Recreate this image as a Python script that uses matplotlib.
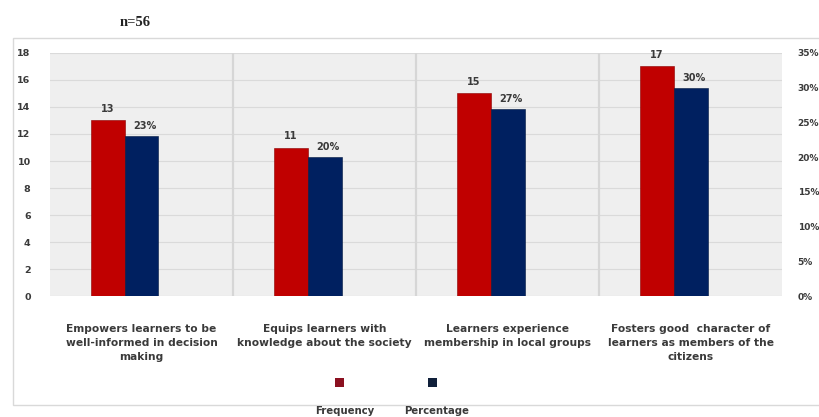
import matplotlib
matplotlib.use("Agg")
import matplotlib.pyplot as plt
from matplotlib.patches import Rectangle
import numpy as np

categories = [
    "Empowers learners to be\nwell-informed in decision\nmaking",
    "Equips learners with\nknowledge about the society",
    "Learners experience\nmembership in local groups",
    "Fosters good  character of\nlearners as members of the\ncitizens",
]
frequency = [13, 11, 15, 17]
percentage = [23, 20, 27, 30]
left_ticks = list(range(0, 19, 2))
right_ticks = list(range(0, 36, 5))
sample_label = "n=56"

RED = "#C00000"
BLUE = "#002060"
TXT = "#3a3a3a"

plt.rcParams["font.family"] = ["DejaVu Sans"]
plt.rcParams["hatch.color"] = "#e2e2e2"
plt.rcParams["hatch.linewidth"] = 0.6

fig = plt.figure(figsize=(8.2, 4.17), dpi=100)

# chart frame
fig.add_artist(Rectangle((0.016, 0.029), 1.0, 0.880, transform=fig.transFigure,
                         facecolor="white", edgecolor="#d9d9d9", lw=1.0, zorder=0))

ax = fig.add_axes([0.061, 0.290, 0.893, 0.583])
ax2 = ax.twinx()

# plot area with a faint dotted texture
ax.set_facecolor("#efefef")
ax.add_patch(Rectangle((0, 0), 1, 1, transform=ax.transAxes, facecolor="none",
                       hatch="....", edgecolor="none", zorder=0))

x = np.arange(len(categories))
w = 0.185

ax.set_xlim(-0.5, len(categories) - 0.5)
ax.set_ylim(0, 18)
ax2.set_ylim(0, 35)

ax.bar(x - w, frequency, width=w, color=RED, edgecolor="#8b0000", lw=0.4, zorder=3)
ax2.bar(x, percentage, width=w, color=BLUE, edgecolor="#001640", lw=0.4, zorder=3)

for xi, v in zip(x, frequency):
    ax.text(xi - w, v + 0.5, f"{v}", ha="center", va="bottom", fontsize=7,
            fontweight="bold", color=TXT, zorder=4)
for xi, v in zip(x, percentage):
    ax2.text(xi + 0.02, v + 0.7, f"{v}%", ha="center", va="bottom", fontsize=7,
             fontweight="bold", color=TXT, zorder=4)

# gridlines
for t in left_ticks:
    ax.axhline(t, color="#dadada", lw=0.8, zorder=1)
for b in np.arange(0.5, len(categories) - 0.5, 1.0):
    ax.axvline(b, color="#d6d6d6", lw=1.6, zorder=1)

ax.set_yticks(left_ticks)
ax.set_yticklabels([str(t) for t in left_ticks])
ax2.set_yticks(right_ticks)
ax2.set_yticklabels([f"{t}%" for t in right_ticks])
ax.set_xticks(x)
ax.set_xticklabels(categories)

for a in (ax, ax2):
    for s in a.spines.values():
        s.set_visible(False)
    a.tick_params(length=0, labelsize=6.8, labelcolor=TXT)
ax.tick_params(axis="y", pad=14)
ax2.tick_params(axis="y", pad=11, labelsize=6.5)
ax.tick_params(axis="x", pad=20, labelsize=7.7)
for lbl in ax.get_yticklabels() + ax2.get_yticklabels():
    lbl.set_fontweight("bold")
for lbl in ax.get_xticklabels():
    lbl.set_fontweight("bold")
    lbl.set_linespacing(1.5)

# legend
fig.add_artist(Rectangle((335 / 820, 1 - 387 / 417), 9 / 820, 9 / 417,
                         transform=fig.transFigure, facecolor="#8b1020", edgecolor="none"))
fig.add_artist(Rectangle((428 / 820, 1 - 387 / 417), 9 / 820, 9 / 417,
                         transform=fig.transFigure, facecolor="#10203a", edgecolor="none"))
fig.text(345 / 820, 1 - 411 / 417, "Frequency", ha="center", va="center",
         fontsize=7.3, fontweight="bold", color=TXT)
fig.text(437 / 820, 1 - 411 / 417, "Percentage", ha="center", va="center",
         fontsize=7.3, fontweight="bold", color=TXT)

fig.text(135 / 820, 1 - 22 / 417, sample_label, ha="center", va="center",
         fontsize=10.5, fontweight="bold", family="Liberation Serif", color="#222222")

fig.savefig("out.png", dpi=100)
